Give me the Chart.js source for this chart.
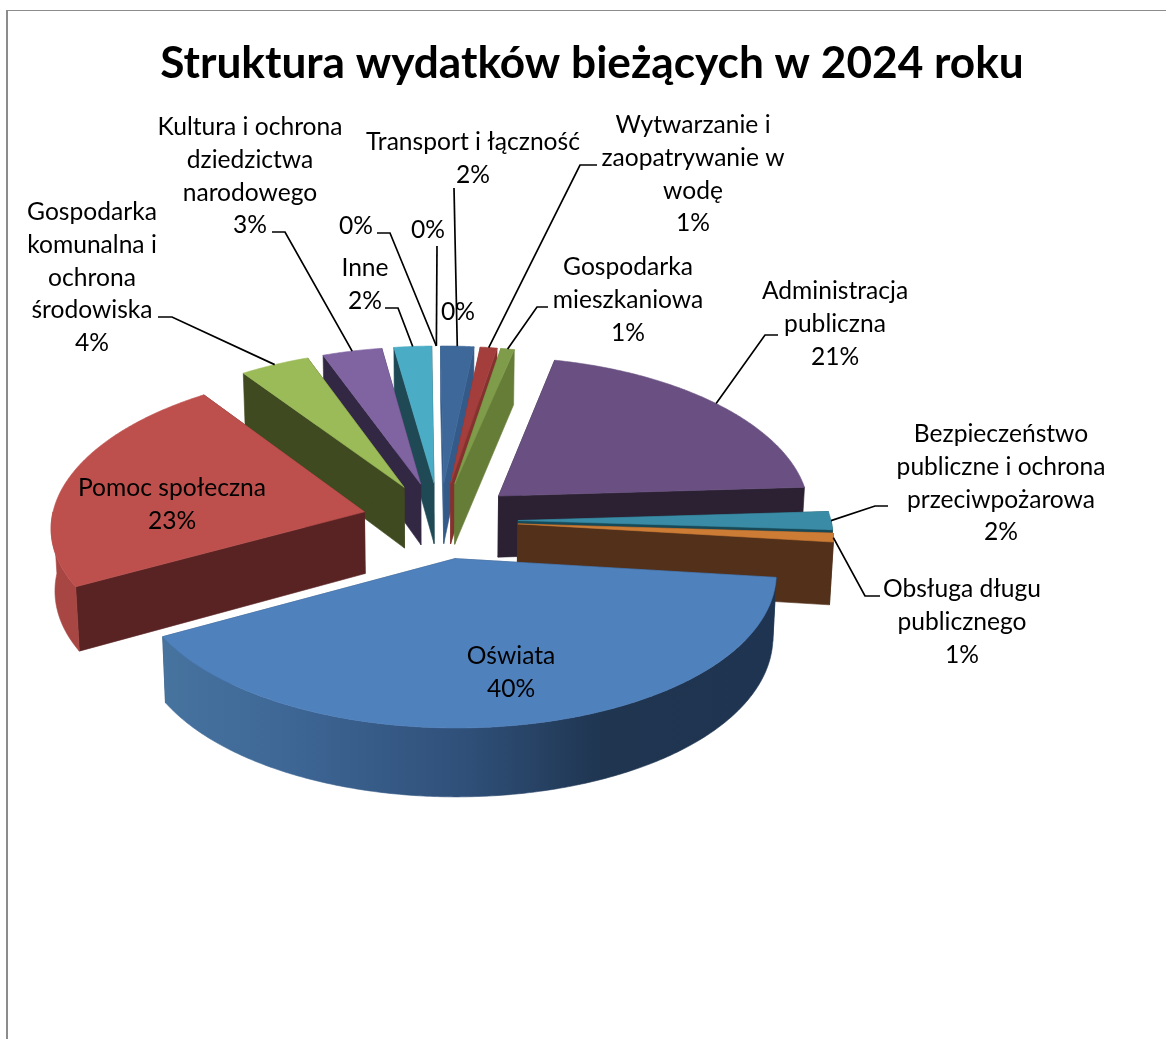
<!DOCTYPE html>
<html lang="pl">
<head>
<meta charset="utf-8">
<title>Struktura wydatków bieżących w 2024 roku</title>
<script src="https://cdn.jsdelivr.net/npm/chart.js@4/dist/chart.umd.min.js"></script>
<style>
  body { margin: 0; background: #fff; }
  #frame { position: absolute; left: 6px; top: 10px; right: 0; bottom: 0; border-left: 2px solid #8c8c8c; border-top: 1px solid #8c8c8c; }
  #chart { position: absolute; left: 0; top: 0; }
</style>
</head>
<body>
<div id="frame"></div>
<canvas id="chart" width="1166" height="1039"></canvas>
<script>
// chart data, clockwise from the top of the pie
const chartTitle = 'Struktura wydatków bieżących w 2024 roku';
const categories = [
  'Transport i łączność', 'Wytwarzanie i\nzaopatrywanie w\nwodę', 'Gospodarka\nmieszkaniowa',
  'Administracja\npubliczna', 'Bezpieczeństwo\npubliczne i ochrona\nprzeciwpożarowa',
  'Obsługa długu\npublicznego', 'Oświata', 'Pomoc społeczna',
  'Gospodarka\nkomunalna i\nochrona\nśrodowiska', 'Kultura i ochrona\ndziedzictwa\nnarodowego',
  'Inne', '', '', ''
];
const values = [1.92, 0.97, 0.78, 20.56, 1.89, 0.92, 40.22, 23.14, 4, 3.44, 2.17, 0, 0, 0];

// colours of the top faces, the radial walls and the rim
const topColors = ['#3d6899', '#a33e3c', '#7f9c4a', '#6a5082', '#3a8ba5', '#cc7c35', '#4f81bd', '#bd504d', '#9bbb59', '#8064a2', '#4bacc6', '#000', '#000', '#000'];
const wallColors = ['#345a8a', '#85322f', '#667d37', '#2b2133', '#174a58', '#52301a', '#2b4a6e', '#5a2323', '#3f4a20', '#332843', '#1f4a55', '#000', '#000', '#000'];
const rimColors = ['#345a8a', '#85322f', '#667d37', '#2b2133', '#174a58', '#52301a', '#2b4a6e', '#a84643', '#3f4a20', '#332843', '#1f4a55', '#000', '#000', '#000'];
const blueRimStops = [[0, '#47739f'], [0.2, '#3e6796'], [0.5, '#2f4f78'], [0.72, '#1f3550'], [1, '#1e3450']];

// where each label block sits: [centre x, first line y, line-end points of the leader]
const labelLayout = [
  { x: 473, y: 142, leader: [[454, 188]] },
  { x: 693, y: 125, leader: [[597, 165], [580, 165]] },
  { x: 628, y: 267, leader: [[548, 307], [537, 307]] },
  { x: 835, y: 291, leader: [[778, 335], [765, 335]] },
  { x: 1001, y: 434, leader: [[888, 506], [875, 506]] },
  { x: 962, y: 589, leader: [[880, 596], [865, 596]] },
  { x: 511, y: 656 },
  { x: 172, y: 488 },
  { x: 92, y: 212, leader: [[158, 317], [172, 317]] },
  { x: 250, y: 127, leader: [[272, 232], [285, 232]] },
  { x: 365, y: 268, leader: [[385, 308], [398, 308]] },
  { x: 356, y: 226, leader: [[377, 233], [390, 233]] },
  { x: 428, y: 230, leader: [[437, 246]] },
  { x: 458, y: 312 }
];

// 3D view of the pie
const view = { cx: 440, cy: 520.5, radius: 313, explode: 78, tilt: 0.4895, tiltPersp: 0.0345, sizePersp: 0.09, depth: 62, taper: 0.01 };
const lineStep = 32.8;
const labelFont = '24.6px Lato';

function project(wx, wy, z) {
  const d = wy / view.radius;
  const s = 1 + view.sizePersp * d;
  const narrow = 1 - view.taper * z / view.depth;
  return { x: view.cx + wx * s * narrow, y: view.cy + wy * (view.tilt + view.tiltPersp * d) + z * s };
}

function fillPoly(ctx, pts, fill) {
  ctx.beginPath();
  pts.forEach((p, i) => (i ? ctx.lineTo(p.x, p.y) : ctx.moveTo(p.x, p.y)));
  ctx.closePath();
  ctx.fillStyle = fill;
  ctx.strokeStyle = fill;
  ctx.lineWidth = 0.6;
  ctx.fill();
  ctx.stroke();
}

// outer edge of a slice between two angles
function rimPoints(arc, a0, a1, z) {
  const mid = (arc.startAngle + arc.endAngle) / 2;
  const ox = view.explode * Math.cos(mid);
  const oy = view.explode * Math.sin(mid);
  const pts = [];
  const n = Math.max(2, Math.ceil((a1 - a0) / 0.01));
  for (let i = 0; i <= n; i++) {
    const a = a0 + (a1 - a0) * i / n;
    pts.push(project(ox + arc.outerRadius * Math.cos(a), oy + arc.outerRadius * Math.sin(a), z));
  }
  return pts;
}

function apexPoint(arc, z) {
  const mid = (arc.startAngle + arc.endAngle) / 2;
  return project(view.explode * Math.cos(mid), view.explode * Math.sin(mid), z);
}

function drawSlice(ctx, arc, i) {
  const a0 = arc.startAngle;
  const a1 = arc.endAngle;
  [a0, a1].forEach(a => {
    const t = rimPoints(arc, a, a, 0)[0];
    const b = rimPoints(arc, a, a, view.depth)[0];
    fillPoly(ctx, [apexPoint(arc, 0), t, b, apexPoint(arc, view.depth)], wallColors[i]);
  });
  // only the near half of the rim faces the viewer
  const lo = Math.max(a0, 0);
  const hi = Math.min(a1, Math.PI);
  if (hi > lo) {
    const upper = rimPoints(arc, lo, hi, 0);
    const lower = rimPoints(arc, lo, hi, view.depth).reverse();
    let fill = rimColors[i];
    if (categories[i] === 'Oświata') {
      fill = ctx.createLinearGradient(upper[upper.length - 1].x, 0, upper[0].x, 0);
      blueRimStops.forEach(s => fill.addColorStop(s[0], s[1]));
    }
    fillPoly(ctx, upper.concat(lower), fill);
  }
  fillPoly(ctx, [apexPoint(arc, 0)].concat(rimPoints(arc, a0, a1, 0)), topColors[i]);
}

function drawLabel(ctx, arc, i, total) {
  const place = labelLayout[i];
  const pct = Math.round(values[i] / total * 100) + '%';
  const lines = (categories[i] ? categories[i].split('\n') : []).concat(pct);
  if (place.leader) {
    const mid = (arc.startAngle + arc.endAngle) / 2;
    const end = rimPoints(arc, mid, mid, 0)[0];
    ctx.beginPath();
    place.leader.forEach((p, k) => (k ? ctx.lineTo(p[0], p[1]) : ctx.moveTo(p[0], p[1])));
    ctx.lineTo(end.x, end.y);
    ctx.strokeStyle = '#000';
    ctx.lineWidth = 1.7;
    ctx.stroke();
  }
  ctx.font = labelFont;
  ctx.fillStyle = '#000';
  ctx.textAlign = 'center';
  ctx.textBaseline = 'middle';
  lines.forEach((line, k) => ctx.fillText(line, place.x, place.y + k * lineStep));
}

// draws the pie arcs in 3D instead of the flat default
const pie3dPlugin = {
  id: 'pie3d',
  beforeDatasetDraw(chart) {
    const ctx = chart.ctx;
    const arcs = chart.getDatasetMeta(0).data;
    const total = values.reduce((a, b) => a + b, 0);
    const midY = arc => Math.sin((arc.startAngle + arc.endAngle) / 2);
    const order = arcs.map((arc, i) => i).filter(i => values[i] > 0);
    order.sort((a, b) => midY(arcs[a]) - midY(arcs[b]));
    ctx.save();
    order.forEach(i => drawSlice(ctx, arcs[i], i));
    arcs.forEach((arc, i) => drawLabel(ctx, arc, i, total));
    ctx.restore();
    return false;
  }
};

new Chart(document.getElementById('chart'), {
  type: 'pie',
  data: {
    labels: categories,
    datasets: [{ data: values, backgroundColor: topColors, borderWidth: 0 }]
  },
  options: {
    responsive: false,
    animation: false,
    rotation: -0.6,
    radius: view.radius,
    layout: { padding: { left: 18 } },
    plugins: {
      legend: { display: false },
      tooltip: { enabled: false },
      title: {
        display: true,
        text: chartTitle,
        color: '#000',
        font: { family: 'Lato', size: 44.2, weight: 'bold' },
        padding: { top: 37, bottom: 10 }
      }
    }
  },
  plugins: [pie3dPlugin]
});
</script>
</body>
</html>
